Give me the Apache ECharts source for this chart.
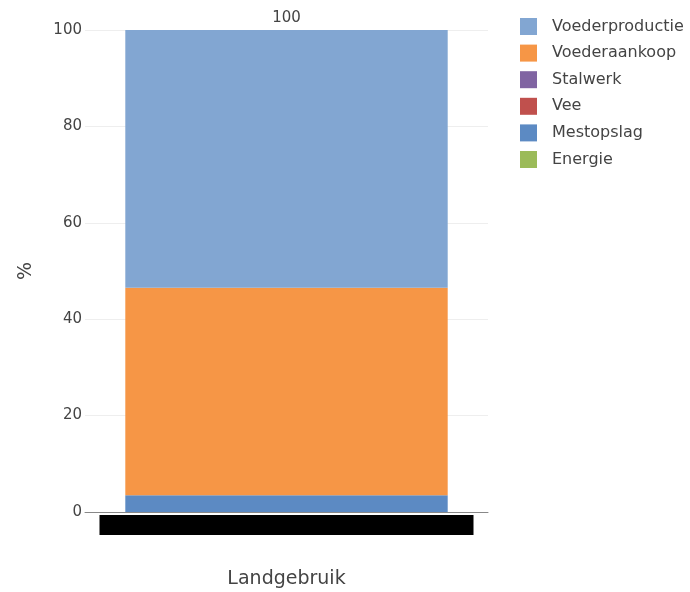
<!DOCTYPE html>
<html>
<head>
<meta charset="utf-8">
<script src="https://cdn.jsdelivr.net/npm/echarts@6/dist/echarts.min.js"></script>
<style>
  html, body { margin: 0; padding: 0; background: #fff; }
  #chart { width: 690px; height: 592px; }
</style>
</head>
<body>
<div id="chart"></div>
<script>
// One stacked column, split by emission source (percent of total)
const categories = ['Bedrijf'];
const legendOrder = ['Voederproductie', 'Voederaankoop', 'Stalwerk', 'Vee', 'Mestopslag', 'Energie'];
// stacking order, bottom to top
const stackOrder = ['Mestopslag', 'Energie', 'Vee', 'Stalwerk', 'Voederaankoop', 'Voederproductie'];
const values = {
  Voederproductie: [53.5],
  Voederaankoop: [43.0],
  Stalwerk: [0],
  Vee: [0],
  Mestopslag: [3.5],
  Energie: [0]
};
const colors = {
  Voederproductie: '#82a6d2',
  Voederaankoop: '#f69646',
  Stalwerk: '#8064a2',
  Vee: '#c0504d',
  Mestopslag: '#5c8ac3',
  Energie: '#9bbb59'
};
const yTicks = [0, 20, 40, 60, 80, 100];

const totals = categories.map((_, i) =>
  stackOrder.reduce((s, k) => s + values[k][i], 0));

const font = 'DejaVu Sans';
const chart = echarts.init(document.getElementById('chart'));

const series = stackOrder.map(name => ({
  name: name,
  type: 'bar',
  stack: 'total',
  barWidth: '80%',
  data: values[name],
  itemStyle: { color: colors[name] },
  emphasis: { disabled: true },
  label: name === 'Voederproductie' ? {
    show: true,
    position: 'top',
    distance: 4,
    color: '#444',
    fontFamily: font,
    fontSize: 15,
    formatter: p => String(Math.round(totals[p.dataIndex]))
  } : { show: false }
}));

chart.setOption({
  animation: false,
  color: legendOrder.map(n => colors[n]),
  textStyle: { fontFamily: font },
  grid: { left: 85, right: 202, top: 30, bottom: 80, containLabel: false, outerBoundsMode: 'none' },
  legend: {
    data: legendOrder,
    orient: 'vertical',
    left: 515,
    top: 13,
    icon: 'rect',
    itemWidth: 17,
    itemHeight: 17,
    itemGap: 9.6,
    textStyle: { color: '#444', fontSize: 16, fontFamily: font, padding: [0, 0, 0, 10] }
  },
  xAxis: {
    type: 'category',
    data: categories,
    name: 'Landgebruik',
    nameLocation: 'middle',
    nameGap: 58,
    nameTextStyle: { color: '#444', fontSize: 19, fontFamily: font },
    axisLine: { lineStyle: { color: '#888', width: 1 } },
    axisTick: { show: false },
    axisLabel: {
      margin: 3,
      color: '#000',
      fontSize: 13,
      backgroundColor: '#000',
      width: 374,
      height: 20,
      lineHeight: 20,
      align: 'center'
    }
  },
  yAxis: {
    type: 'value',
    min: 0,
    max: 100,
    interval: 20,
    name: '%',
    nameLocation: 'middle',
    nameRotate: 90,
    nameGap: 49,
    nameTextStyle: { color: '#444', fontSize: 19, fontFamily: font },
    axisLine: { show: false },
    axisTick: { show: false },
    splitLine: { lineStyle: { color: '#eeeeee', width: 1 } },
    axisLabel: {
      color: '#444',
      fontSize: 15,
      margin: 3,
      formatter: v => yTicks.includes(v) ? String(v) : ''
    }
  },
  series: series
});
</script>
</body>
</html>
